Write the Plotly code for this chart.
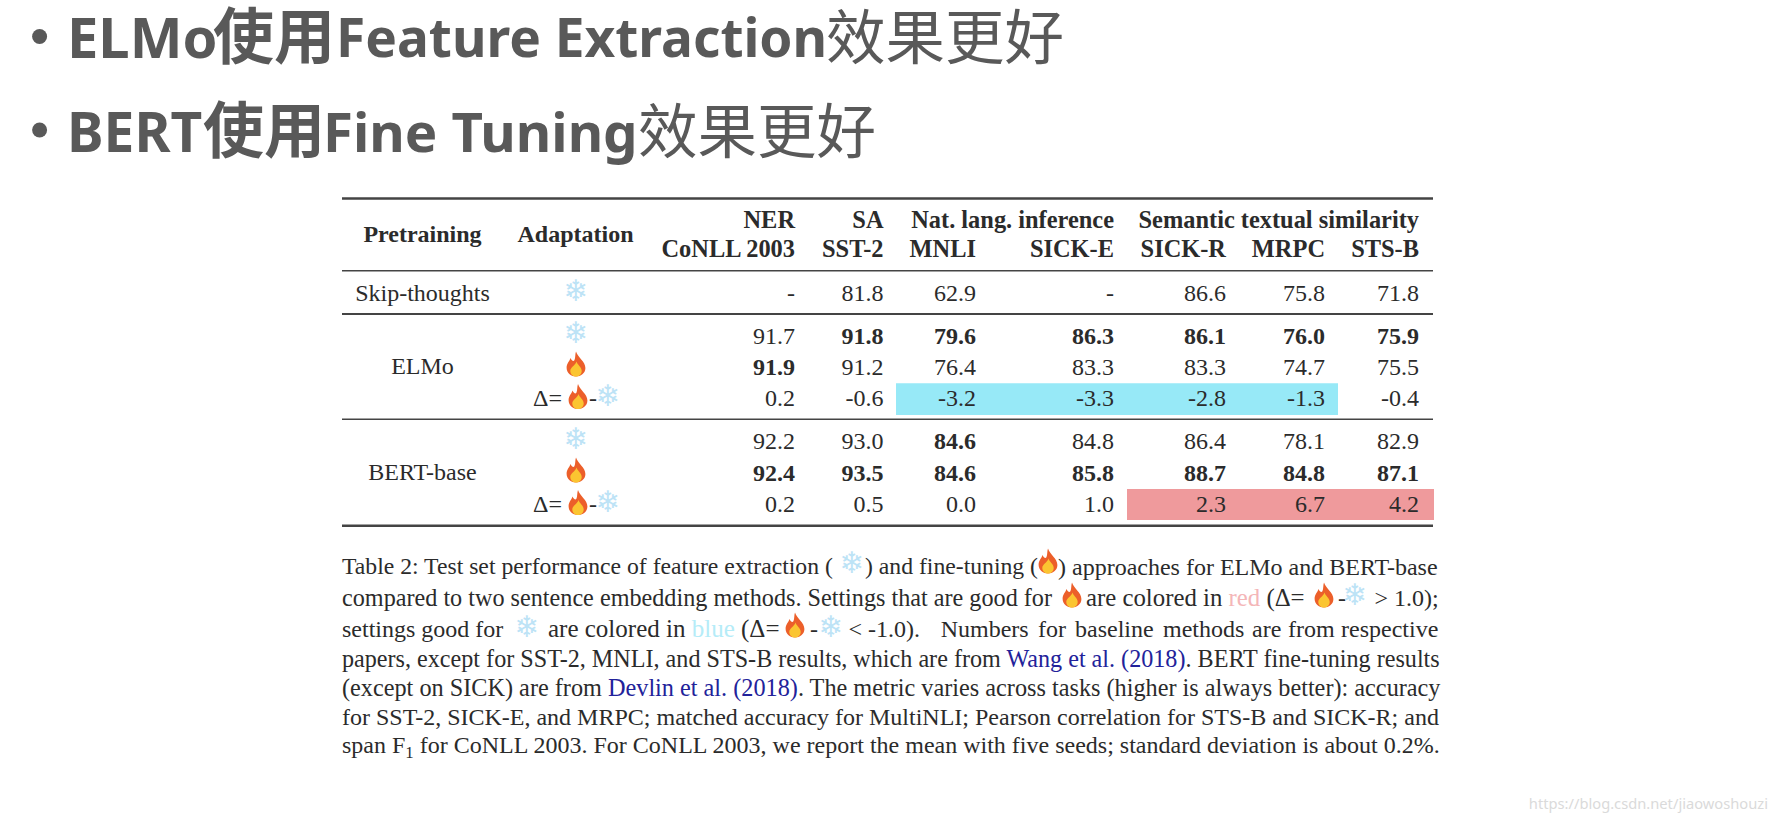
import plotly.graph_objects as go

# table values, top to bottom
ner_2003 = ["-", "91.7", "91.9", "0.2", "92.2", "92.4", "0.2"]
sa_sst2 = ["81.8", "91.8", "91.2", "-0.6", "93.0", "93.5", "0.5"]
mnli = ["62.9", "79.6", "76.4", "-3.2", "84.6", "84.6", "0.0"]
sick_e = ["-", "86.3", "83.3", "-3.3", "84.8", "85.8", "1.0"]
sick_r = ["86.6", "86.1", "83.3", "-2.8", "86.4", "88.7", "2.3"]
mrpc = ["75.8", "76.0", "74.7", "-1.3", "78.1", "84.8", "6.7"]
sts_b = ["71.8", "75.9", "75.5", "-0.4", "82.9", "87.1", "4.2"]

ner_bold = [0, 0, 1, 0, 0, 1, 0]
sa_bold = [0, 1, 0, 0, 0, 1, 0]
mnli_bold = [0, 1, 0, 0, 1, 1, 0]
rest_bold = [0, 1, 0, 0, 0, 1, 0]

header_top = ["NER", "SA", "Nat. lang. inference", "Semantic textual similarity"]
header_sub = ["CoNLL 2003", "SST-2", "MNLI", "SICK-E", "SICK-R", "MRPC", "STS-B"]
pretraining = ["Skip-thoughts", "ELMo", "BERT-base"]

title_1 = ["ELMo", "使用", "Feature Extraction", "效果更好"]
title_2 = ["BERT", "使用", "Fine Tuning", "效果更好"]

caption_1 = ["Table 2: Test set performance of feature extraction (", ") and fine-tuning (",
             ") approaches for ELMo and BERT-base"]
caption_2 = ["compared to two sentence embedding methods. Settings that are good for",
             "are colored in <span style='color:#F4B6B8'>red</span> (Δ=", "-", "&gt; 1.0);"]
caption_3 = ["settings good for", "are colored in <span style='color:#B5ECF8'>blue</span> (Δ=", "-",
             "&lt; -1.0).", "Numbers", "for", "baseline", "methods", "are", "from", "respective"]
caption_rest = [
    "papers, except for SST-2, MNLI, and STS-B results, which are from "
    "<span style='color:#22229A'>Wang et al. (2018)</span>. BERT fine-tuning results",
    "(except on SICK) are from <span style='color:#22229A'>Devlin et al. (2018)</span>. "
    "The metric varies across tasks (higher is always better): accuracy",
    "for SST-2, SICK-E, and MRPC; matched accuracy for MultiNLI; Pearson correlation for STS-B and SICK-R; and",
    "span F<sub>1</sub> for CoNLL 2003. For CoNLL 2003, we report the mean with five seeds; "
    "standard deviation is about 0.2%.",
]
watermark = "https://blog.csdn.net/jiaowoshouzi"

# page layout in pixels
column_right = [795, 883.5, 976, 1114, 1226, 1325, 1419]
row_y = [294.5, 337.5, 368.5, 399.5, 442.5, 474.5, 505.5]
rule_y = [198.5, 270.7, 314, 419.3, 525.7]
rule_w = [2.5, 1.5, 2, 1.5, 2.5]
TEXT = "#2b2b2b"
SERIF = "Liberation Serif"
TITLE_GREY = "#595959"
SNOW = "#BDE3F6"

fig = go.Figure()


def put_text(xs, ys, texts, size, family=SERIF, color=TEXT, pos="middle right"):
    fig.add_trace(go.Scatter(x=xs, y=ys, text=texts, mode="text", textposition=pos,
                             textfont=dict(family=family, size=size, color=color),
                             hoverinfo="skip", showlegend=False))


def bold(vals, mask):
    return ["<b>%s</b>" % v if m else v for v, m in zip(vals, mask)]


def put_fire(cx, cy, h=25):
    w = h * 0.82
    outer = [(0, -.5), (.1, -.25), (.46, -.1), (.46, .16), (.46, .38), (.22, .5), (0, .5), (-.22, .5), (-.46, .38),
             (-.46, .15), (-.46, -.02), (-.32, -.1), (-.27, -.24), (-.18, -.1), (-.12, -.1), (-.08, -.15),
             (-.02, -.25), (-.05, -.4), (0, -.5)]
    inner = [(.02, -.1), (.06, .02), (.28, .12), (.28, .28), (.28, .42), (.14, .5), (0, .5), (-.14, .5), (-.28, .42),
             (-.28, .28), (-.28, .12), (-.02, .06), (.02, -.1)]
    for pts, col in ((outer, "#EC5F2A"), (inner, "#FBC531")):
        xy = [(cx + px * w, cy + py * h) for px, py in pts]
        path = "M%.1f,%.1f" % xy[0]
        for i in range(1, len(xy), 3):
            path += " C%.1f,%.1f %.1f,%.1f %.1f,%.1f" % (xy[i] + xy[i + 1] + xy[i + 2])
        fig.add_shape(type="path", path=path + " Z", fillcolor=col, line_width=0, xref="x", yref="y", layer="above")


def put_snow(cx, cy, size=30):
    put_text([cx], [cy + 2.5], ["❄"], size, family="DejaVu Sans", color=SNOW, pos="middle center")


# slide titles
LATIN_B = "Noto Sans"
CJK = "Noto Sans CJK SC"
fig.add_trace(go.Scatter(x=[39.6, 39.6], y=[36.5, 130], mode="markers", hoverinfo="skip", showlegend=False,
                         marker=dict(size=15, color=TITLE_GREY)))
put_text([67, 67], [44, 138], ["<b>%s</b>" % title_1[0], "<b>%s</b>" % title_2[0]], [56, 55], LATIN_B, TITLE_GREY)
put_text([213, 203], [44, 138], ["<b>%s</b>" % title_1[1], "<b>%s</b>" % title_2[1]], 61, CJK, TITLE_GREY)
put_text([336, 323], [44, 138], ["<b>%s</b>" % title_1[2], "<b>%s</b>" % title_2[2]], [53.2, 54.6], LATIN_B,
         TITLE_GREY)
put_text([826, 638], [44, 138], [title_1[3], title_2[3]], 59.5, CJK, TITLE_GREY)

# highlighted cells and rules
fig.add_shape(type="rect", x0=896, x1=1338, y0=383.3, y1=415, fillcolor="#97E9F7", line_width=0, layer="below")
fig.add_shape(type="rect", x0=1127, x1=1434, y0=489, y1=520, fillcolor="#EF9A9C", line_width=0, layer="below")
for y, w in zip(rule_y, rule_w):
    fig.add_shape(type="line", x0=342, x1=1433, y0=y, y1=y, line=dict(color="#444444", width=w))

# table header
put_text([422.5], [236], ["<b>Pretraining</b>"], 24, pos="middle center")
put_text([575.5], [236], ["<b>Adaptation</b>"], 24, pos="middle center")
put_text(column_right[:2] + [column_right[3], column_right[6]], [222] * 4,
         ["<b>%s</b>" % t for t in header_top], 24.4, pos="middle left")
put_text(column_right, [251] * 7, ["<b>%s</b>" % t for t in header_sub], 24.4, pos="middle left")

# table body
put_text([422.5] * 3, [294.5, 367.5, 473.5], pretraining, 24, pos="middle center")
columns = [(ner_2003, ner_bold), (sa_sst2, rest_bold), (mnli, mnli_bold), (sick_e, rest_bold),
           (sick_r, rest_bold), (mrpc, rest_bold), (sts_b, rest_bold)]
for right, (vals, mask) in zip(column_right, columns):
    put_text([right] * len(vals), row_y, bold(vals, mask), 24, pos="middle left")

# adaptation icons
for y in (291, 333, 439):
    put_snow(576, y)
for y in (364, 470):
    put_fire(576, y)
for y in (399.5, 505.5):
    put_text([533], [y], ["Δ="], 24)
    put_fire(578, y - 3)
    put_text([589], [y], ["-"], 24)
    put_snow(608, y - 4)

# caption
put_text([342, 865, 1058], [568.5] * 3, caption_1, [23.7, 23.7, 24])
put_snow(852, 563)
put_fire(1048, 561)
put_text([342, 1086, 1338, 1374.5], [600] * 4, caption_2, [24.2, 24.8, 24, 24])
put_fire(1072, 595)
put_fire(1324, 595)
put_snow(1355, 595)
put_text([342, 548, 810, 848.5, 940.7, 1038, 1075, 1163, 1252, 1288, 1341], [631] * 11, caption_3,
         [24, 25, 24, 24, 24, 24, 24, 24, 24, 24, 24])
put_snow(527, 627)
put_fire(795, 625)
put_snow(831, 627)
put_text([342] * 4, [661, 690, 719, 747], caption_rest, [24.15, 24.25, 24, 24])

put_text([1768], [805], [watermark], 14.7, family="Noto Sans", color="#DADADA", pos="middle left")

fig.update_xaxes(range=[0, 1776], visible=False, fixedrange=True)
fig.update_yaxes(range=[822, 0], visible=False, fixedrange=True)
fig.update_layout(width=1776, height=822, margin=dict(l=0, r=0, t=0, b=0), plot_bgcolor="white",
                  paper_bgcolor="white", showlegend=False)
fig.write_html("out.html", post_script="document.body.style.margin='0';", config={"displayModeBar": False})
